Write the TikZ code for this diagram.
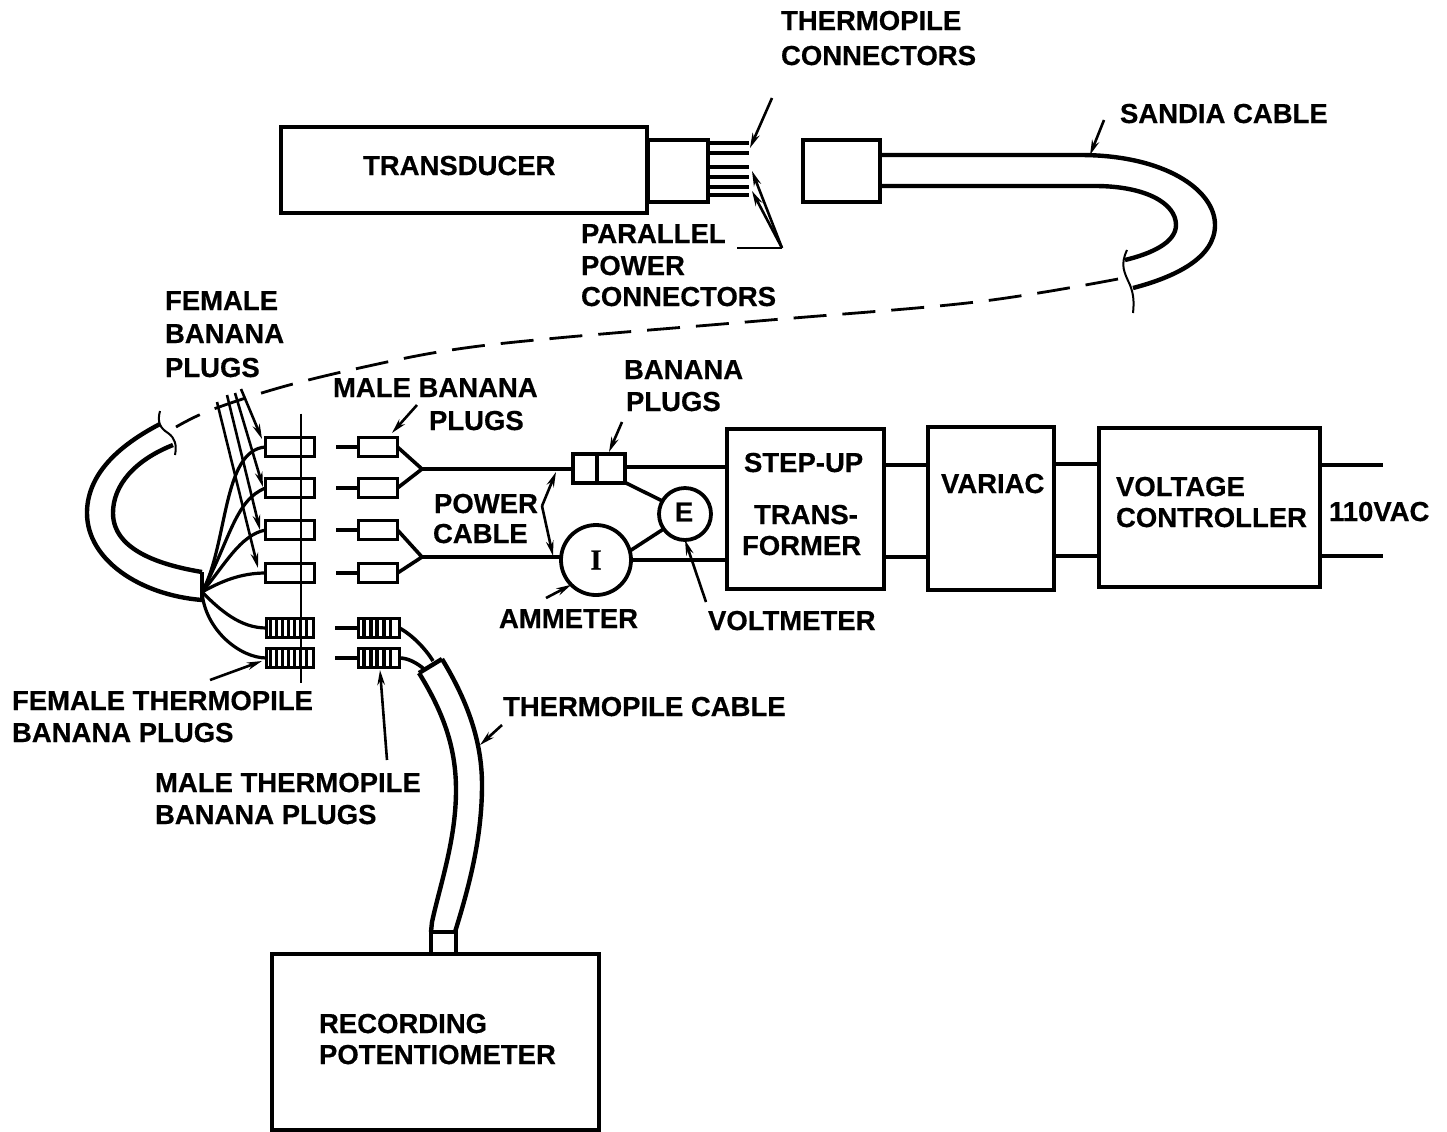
\documentclass[tikz,border=0pt]{standalone}
\usepackage{fontspec}
\setmainfont{Liberation Sans}[BoldFeatures={FakeBold=0.5}]
\newfontfamily\meterfont{Liberation Serif}[BoldFeatures={FakeBold=0.5}]
\usetikzlibrary{arrows.meta}
\tikzset{
  lab/.style={anchor=base west,inner sep=0pt,outer sep=0pt,yshift=1bp,font=\bfseries\fontsize{27.5bp}{32bp}\selectfont},
  unitbox/.style={draw,line width=4bp,inner sep=0pt,outer sep=0pt},
  plugbox/.style={unitbox,line width=3.6bp,minimum height=19bp},
  meter/.style={draw,circle,line width=3.8bp,inner sep=0pt,outer sep=0pt},
  wire/.style={line width=3.6bp},
  fanwire/.style={line width=3.2bp},
  cable/.style={line width=4.4bp},
  brk/.style={line width=2bp},
  leader/.style={line width=2.6bp},
  tip/.style={-{Stealth[length=15bp,width=7.5bp]}}
}
\begin{document}
\begin{tikzpicture}[x=1bp,y=-1bp]
  \useasboundingbox (0,0) rectangle (1447,1131);
  % transducer end
  \node[unitbox,minimum width=366bp,minimum height=86bp] (transducer) at (464,170) {};
  \node[unitbox,minimum width=60bp,minimum height=62bp] (sleeve) at (678,171) {};
  \foreach \y in {143,153,167,177,187,195} {
    \coordinate (pinA\y) at (708,\y);
    \coordinate (pinB\y) at (749,\y);
    \draw[wire] (pinA\y)--(pinB\y);
  }
  % sandia cable
  \node[unitbox,minimum width=77bp,minimum height=62bp] (sandia) at (841,171) {};
  \coordinate (brkA) at (1127,250);
  \coordinate (brkB) at (1133,313);
  \draw[cable] (sandia.east |- 0,155)--(1080,155) .. controls (1165,155) and (1215,190) .. (1215,225) .. controls (1215,258) and (1175,277) .. (1133,288);
  \draw[cable] (sandia.east |- 0,186)--(1095,186) .. controls (1145,186) and (1176,203) .. (1176,225) .. controls (1176,243) and (1150,254) .. (1125,260);
  \draw[brk] (brkA) .. controls (1120,265) and (1124,272) .. (1130,285) .. controls (1134,295) and (1134,303) .. (brkB);
  \draw[line width=2.8bp,dash pattern=on 33bp off 16bp] plot[smooth,tension=.6] coordinates {(1118,279) (976,302) (770,320) (557,338) (451,350) (364,367) (282,387) (211,410) (176,427)};
  % left cable
  \coordinate (fanA) at (202,572);
  \coordinate (fanB) at (202,600);
  \draw[cable] (160,424) .. controls (110,450) and (87,480) .. (87,513) .. controls (87,560) and (140,595) .. (fanB);
  \draw[cable] (173,445) .. controls (135,460) and (113,485) .. (113,513) .. controls (113,550) and (160,565) .. (fanA);
  \draw[cable] (fanA)--(fanB);
  \draw[brk] (160,411) .. controls (157,422) and (160,428) .. (168,433) .. controls (175,438) and (177,445) .. (175,455);
  % panel and plugs
  \node[inner sep=0pt,outer sep=0pt] (panelA) at (301,413) {};
  \node[inner sep=0pt,outer sep=0pt] (panelB) at (301,683) {};
  \foreach \n/\y in {1/447,2/488,3/530,4/573} {
    \node[plugbox,minimum width=49bp] (FP\n) at (290,\y) {};
    \node[plugbox,minimum width=39bp] (MP\n) at (378,\y) {};
    \coordinate (pin\n) at (336,\y);
    \draw[wire] (pin\n)--(MP\n.west);
  }
  \draw[line width=2.2bp] (panelA)--(panelB);
  \foreach \n/\y in {1/628,2/658} {
    \node[plugbox,minimum width=47bp] (FT\n) at (290,\y) {};
    \node[plugbox,minimum width=41bp] (MT\n) at (379,\y) {};
    \coordinate (tpin\n) at (335,\y);
    \draw[wire] (tpin\n)--(MT\n.west);
    \foreach \s in {0,...,6} \draw[line width=3.4bp] (270.5+6*\s,\y-9)--(270.5+6*\s,\y+9);
    \foreach \s in {0,...,4} \draw[line width=3.8bp] (364+6.6*\s,\y-9)--(364+6.6*\s,\y+9);
  }
  % fan of wires
  \draw[fanwire] (202,592) .. controls (228,545) and (222,450) .. (FP1.west);
  \draw[fanwire] (202,592) .. controls (230,540) and (235,500) .. (FP2.west);
  \draw[fanwire] (202,592) .. controls (225,565) and (240,535) .. (FP3.west);
  \draw[fanwire] (202,592) .. controls (220,582) and (240,573) .. (FP4.west);
  \draw[fanwire] (202,592) .. controls (220,610) and (240,628) .. (FT1.west);
  \draw[fanwire] (202,592) .. controls (205,630) and (240,658) .. (FT2.west);
  % power circuit
  \coordinate (jointA) at (422,469);
  \coordinate (jointB) at (422,557);
  \draw[wire] (MP1.east)--(jointA)--(MP2.east);
  \draw[wire] (MP3.east)--(jointB)--(MP4.east);
  \node[unitbox,minimum width=52bp,minimum height=29bp] (bananapair) at (599,468) {};
  \draw[wire] (597,454)--(597,482);
  \node[meter,minimum size=70bp] (ammeter) at (596,560) {\meterfont\bfseries\fontsize{29bp}{32bp}\selectfont I};
  \node[meter,minimum size=52bp] (voltm) at (685,514) {};
  \node[lab,anchor=center] (voltE) at (684,513) {E};
  \node[unitbox,minimum width=157bp,minimum height=160bp] (stepup) at (805.5,509) {};
  \node[unitbox,minimum width=126bp,minimum height=163bp] (variac) at (991,508.5) {};
  \node[unitbox,minimum width=221bp,minimum height=159bp] (controller) at (1209.5,507.5) {};
  \coordinate (acA) at (1383,465);
  \coordinate (acB) at (1383,556);
  \draw[wire] (jointA)--(bananapair.west |- jointA);
  \draw[wire] (jointB)--(ammeter.west |- jointB);
  \draw[wire] (bananapair.east |- 0,467)--(stepup.west |- 0,467);
  \draw[wire] (ammeter.east)--(stepup.west |- ammeter.east);
  \draw[wire] (bananapair.south east)--(voltm.150);
  \draw[wire] (ammeter.15)--(voltm.215);
  \draw[wire] (stepup.east |- 0,465)--(variac.west |- 0,465);
  \draw[wire] (stepup.east |- 0,557)--(variac.west |- 0,557);
  \draw[wire] (variac.east |- 0,464)--(controller.west |- 0,464);
  \draw[wire] (variac.east |- 0,556)--(controller.west |- 0,556);
  \draw[wire] (controller.east |- acA)--(acA);
  \draw[wire] (controller.east |- acB)--(acB);
  % potentiometer and thermopile cable
  \node[unitbox,minimum width=327bp,minimum height=176bp] (recorder) at (435.5,1042) {};
  \node[unitbox,minimum width=25bp,minimum height=22bp] (recplug) at (443,943) {};
  \draw[cable] (419,673)--(442,659);
  \draw[cable] (442,659) .. controls (470,705) and (482,745) .. (482,785) .. controls (482,840) and (468,890) .. (455,932);
  \draw[cable] (419,673) .. controls (445,715) and (456,750) .. (456,790) .. controls (456,840) and (440,885) .. (432,922)--(431,932);
  \draw[wire] (MT1.east) .. controls (412,635) and (425,648) .. (433,661);
  \draw[wire] (MT2.east) .. controls (408,658) and (417,663) .. (424,669);
  % leaders
  \coordinate (lThermoA) at (772,98);
  \coordinate (lThermoB) at (750,148);
  \coordinate (lElbowA) at (737,248);
  \coordinate (lElbowB) at (782,248);
  \coordinate (lPowA) at (752,171);
  \coordinate (lPowB) at (752,191);
  \draw[leader,tip] (lThermoA)--(lThermoB);
  \draw[leader] (lElbowA)--(lElbowB);
  \draw[leader,tip] (lElbowB)--(lPowA);
  \draw[leader,tip] (lElbowB)--(lPowB);
  \draw[leader,tip] (1104,120)--(1090,155);
  \draw[leader,tip] (217,402)--(258,568);
  \draw[leader,tip] (227,395)--(260,530);
  \draw[leader,tip] (235,393)--(263,487);
  \draw[leader,tip] (241,389)--(262,439);
  \draw[leader,tip] (417,405)--(392,433);
  \draw[leader,tip] (622,422)--(609,452);
  \coordinate (lCable) at (542,506);
  \draw[leader,tip] (lCable)--(556,472);
  \draw[leader,tip] (lCable)--(553,556);
  \draw[leader,tip] (546,598)--(ammeter.225);
  \draw[leader,tip] (706,602)--(voltm.south);
  \draw[leader,tip] (210,680)--(262,661);
  \draw[leader,tip] (387,760)--(380,670);
  \draw[leader,tip] (502,725)--(480,745);
  % labels
  \node[lab] (tcA) at (781,31) {THERMOPILE};
  \node[lab] (tcB) at (781,66) {CONNECTORS};
  \node[lab] (sandiaText) at (1120,124) {SANDIA CABLE};
  \node[lab] (transText) at (363,176) {TRANSDUCER};
  \node[lab] (ppA) at (581,244) {PARALLEL};
  \node[lab] (ppB) at (581,276) {POWER};
  \node[lab] (ppC) at (581,307) {CONNECTORS};
  \node[lab] (fbA) at (165,311) {FEMALE};
  \node[lab] (fbB) at (165,344) {BANANA};
  \node[lab] (fbC) at (165,378) {PLUGS};
  \node[lab] (mbA) at (333,398) {MALE BANANA};
  \node[lab] (mbB) at (429,431) {PLUGS};
  \node[lab] (bpA) at (624,380) {BANANA};
  \node[lab] (bpB) at (626,412) {PLUGS};
  \node[lab] (pcA) at (434,514) {POWER};
  \node[lab] (pcB) at (433,544) {CABLE};
  \node[lab] (ammText) at (499,629) {AMMETER};
  \node[lab] (voltText) at (708,631) {VOLTMETER};
  \node[lab] (suA) at (744,473) {STEP-UP};
  \node[lab] (suB) at (754,525) {TRANS-};
  \node[lab] (suC) at (742,556) {FORMER};
  \node[lab] (variacText) at (941,494) {VARIAC};
  \node[lab] (vcA) at (1116,497) {VOLTAGE};
  \node[lab] (vcB) at (1116,528) {CONTROLLER};
  \node[lab] (acText) at (1329,522) {110VAC};
  \node[lab] (ftA) at (12,711) {FEMALE THERMOPILE};
  \node[lab] (ftB) at (12,743) {BANANA PLUGS};
  \node[lab] (mtA) at (155,793) {MALE THERMOPILE};
  \node[lab] (mtB) at (155,825) {BANANA PLUGS};
  \node[lab] (tcable) at (503,717) {THERMOPILE CABLE};
  \node[lab] (rpA) at (319,1034) {RECORDING};
  \node[lab] (rpB) at (319,1065) {POTENTIOMETER};
\end{tikzpicture}
\end{document}
